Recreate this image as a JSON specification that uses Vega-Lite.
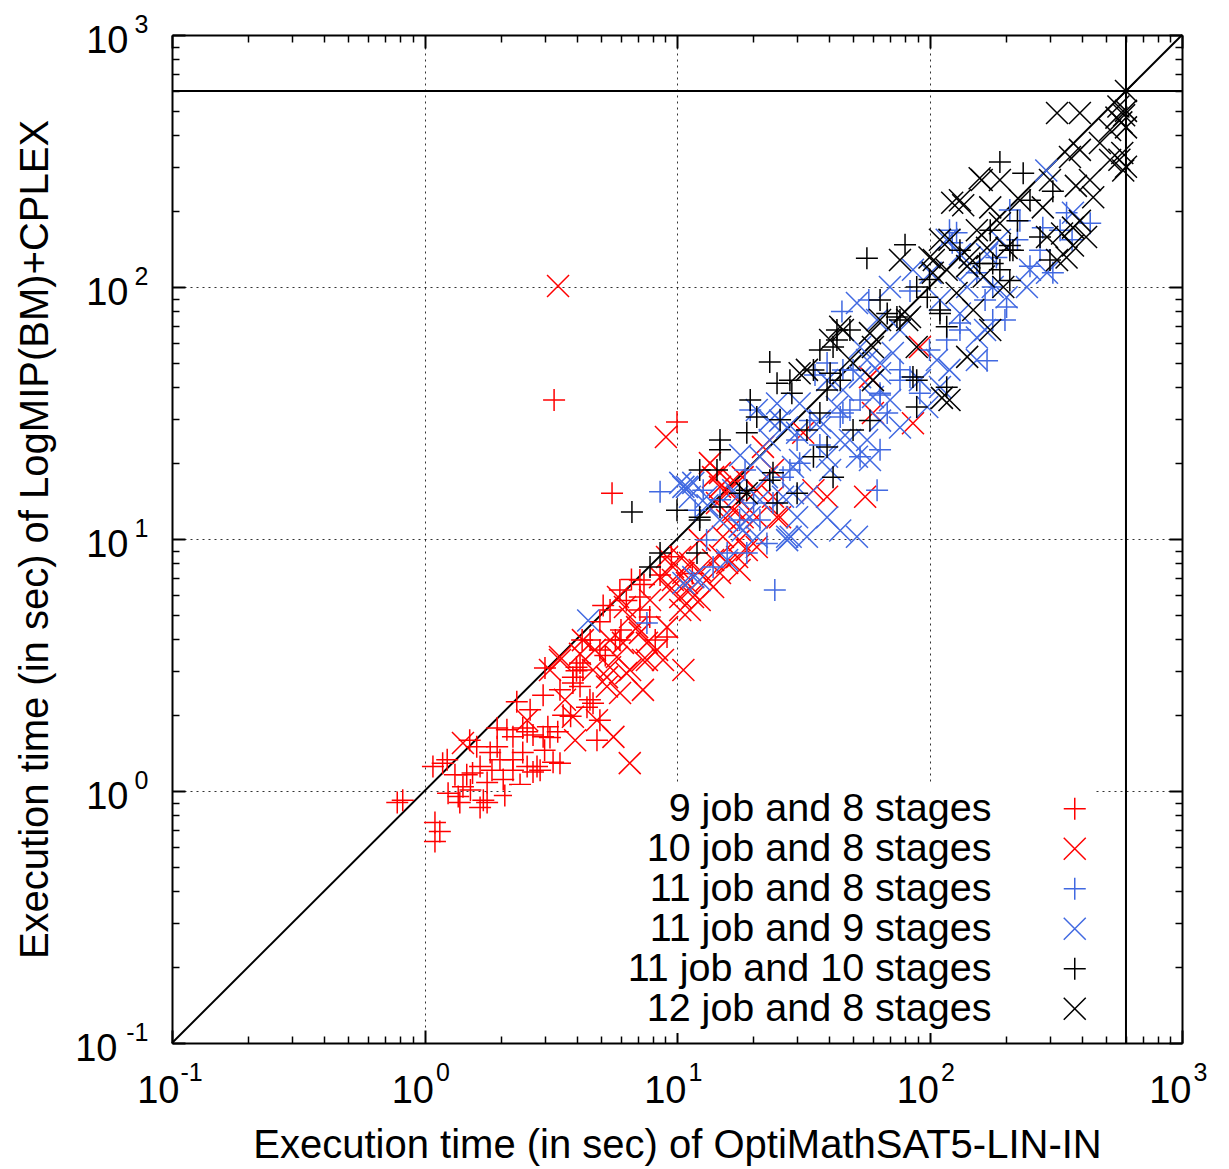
{
  "$schema": "https://vega.github.io/schema/vega-lite/v6.json",
  "width": 1010,
  "height": 1008,
  "autosize": {"type": "none"},
  "padding": {"left": 172, "top": 35, "right": 47, "bottom": 126},
  "background": "white",
  "config": {
    "view": {"stroke": null},
    "font": "Liberation Sans",
    "axis": {"labelFont": "Liberation Sans", "titleFont": "Liberation Sans", "labelColor": "black", "titleColor": "black", "tickColor": "black", "domainColor": "black", "titleFontWeight": "normal", "labelFlush": false, "labelOverlap": false, "labelBound": false}
  },
  "resolve": {"axis": {"x": "independent", "y": "independent"}},
  "layer": [
    {
      "data": {"values": [{"x": 0.1, "y": 0.1}, {"x": 1000, "y": 1000}]},
      "mark": {"type": "line", "color": "black", "strokeWidth": 2},
      "encoding": {
        "x": {"field": "x", "type": "quantitative", "scale": {"type": "log", "domain": [0.1, 1000], "nice": false},
          "axis": {"orient": "bottom", "values": [0.1, 1, 10, 100, 1000], "labelExpr": "'10'", "labelFontSize": 38, "labelAlign": "right", "labelBaseline": "alphabetic",
            "labelOffset": {"condition": {"test": "datum.value < 0.5", "value": 7}, "value": 9}, "labelPadding": 72, "tickSize": -13, "tickWidth": 2,
            "domain": true, "domainWidth": 2, "grid": true, "gridDash": [2, 4], "gridColor": "black", "gridWidth": 1, "gridOpacity": 0.8,
            "title": "Execution time (in sec) of OptiMathSAT5-LIN-IN", "titleFontSize": 40, "titleY": 114, "titleBaseline": "alphabetic"}},
        "y": {"field": "y", "type": "quantitative", "scale": {"type": "log", "domain": [0.1, 1000], "nice": false},
          "axis": {"orient": "left", "values": [0.1, 1, 10, 100, 1000], "labelExpr": "'10'", "labelFontSize": 38, "labelAlign": "right", "labelBaseline": "alphabetic",
            "labelOffset": 17, "labelPadding": {"condition": {"test": "datum.value < 0.5", "value": 68}, "value": 57}, "tickSize": -13, "tickWidth": 2,
            "domain": true, "domainWidth": 2, "grid": true, "gridDash": [2, 4], "gridColor": "black", "gridWidth": 1, "gridOpacity": 0.8,
            "title": "Execution time (in sec) of LogMIP(BM)+CPLEX", "titleFontSize": 40, "titleX": -125, "titleBaseline": "alphabetic"}}
      }
    },
    {
      "data": {"values": [{"t": 600}]},
      "mark": {"type": "rule", "color": "black", "strokeWidth": 2},
      "encoding": {"y": {"field": "t", "type": "quantitative", "scale": {"type": "log", "domain": [0.1, 1000], "nice": false}, "axis": null}}
    },
    {
      "data": {"values": [{"t": 600}]},
      "mark": {"type": "rule", "color": "black", "strokeWidth": 2},
      "encoding": {"x": {"field": "t", "type": "quantitative", "scale": {"type": "log", "domain": [0.1, 1000], "nice": false}, "axis": null}}
    },
    {
      "data": {"values": [
        {"s":"9 job and 8 stages","x":0.78,"y":0.9},{"s":"9 job and 8 stages","x":0.82,"y":0.92},{"s":"9 job and 8 stages","x":1.1,"y":0.75},{"s":"9 job and 8 stages","x":1.15,"y":0.69},{"s":"9 job and 8 stages","x":1.1,"y":0.63},{"s":"9 job and 8 stages","x":1.18,"y":1.29},{"s":"9 job and 8 stages","x":1.24,"y":0.98},{"s":"9 job and 8 stages","x":1.36,"y":0.95},{"s":"9 job and 8 stages","x":1.38,"y":0.9},{"s":"9 job and 8 stages","x":1.42,"y":1.04},
        {"s":"9 job and 8 stages","x":1.47,"y":1.16},{"s":"9 job and 8 stages","x":1.51,"y":1.59},{"s":"9 job and 8 stages","x":1.55,"y":1.18},{"s":"9 job and 8 stages","x":1.61,"y":1.5},{"s":"9 job and 8 stages","x":1.66,"y":1.25},{"s":"9 job and 8 stages","x":1.71,"y":0.92},{"s":"9 job and 8 stages","x":1.77,"y":0.9},{"s":"9 job and 8 stages","x":1.66,"y":0.86},{"s":"9 job and 8 stages","x":1.82,"y":1.42},{"s":"9 job and 8 stages","x":1.94,"y":1.5},
        {"s":"9 job and 8 stages","x":1.99,"y":1.33},{"s":"9 job and 8 stages","x":1.77,"y":1.08},{"s":"9 job and 8 stages","x":2.05,"y":1.11},{"s":"9 job and 8 stages","x":2.32,"y":2.26},{"s":"9 job and 8 stages","x":2.95,"y":2.4},{"s":"9 job and 8 stages","x":2.45,"y":1.78},{"s":"9 job and 8 stages","x":2.55,"y":1.72},{"s":"9 job and 8 stages","x":2.69,"y":1.67},{"s":"9 job and 8 stages","x":2.95,"y":1.64},{"s":"9 job and 8 stages","x":3.14,"y":1.63},
        {"s":"9 job and 8 stages","x":2.12,"y":1.75},{"s":"9 job and 8 stages","x":2.24,"y":1.33},{"s":"9 job and 8 stages","x":2.45,"y":1.42},{"s":"9 job and 8 stages","x":2.55,"y":1.25},{"s":"9 job and 8 stages","x":2.69,"y":1.19},{"s":"9 job and 8 stages","x":2.79,"y":1.25},{"s":"9 job and 8 stages","x":3.23,"y":1.3},{"s":"9 job and 8 stages","x":3.44,"y":1.29},{"s":"9 job and 8 stages","x":2.24,"y":1.21},{"s":"9 job and 8 stages","x":2.69,"y":0.9},
        {"s":"9 job and 8 stages","x":3.67,"y":0.9},{"s":"9 job and 8 stages","x":3.54,"y":2.0},{"s":"9 job and 8 stages","x":3.79,"y":1.98},{"s":"9 job and 8 stages","x":3.08,"y":1.8},{"s":"9 job and 8 stages","x":3.37,"y":1.72},{"s":"9 job and 8 stages","x":3.0,"y":3.08},{"s":"9 job and 8 stages","x":4.13,"y":3.22},{"s":"9 job and 8 stages","x":4.0,"y":3.0},{"s":"9 job and 8 stages","x":3.87,"y":2.68},{"s":"9 job and 8 stages","x":4.13,"y":2.6},
        {"s":"9 job and 8 stages","x":4.82,"y":1.59},{"s":"9 job and 8 stages","x":4.4,"y":2.15},{"s":"9 job and 8 stages","x":4.65,"y":2.23},{"s":"9 job and 8 stages","x":4.95,"y":1.91},{"s":"9 job and 8 stages","x":7.13,"y":5.89},{"s":"9 job and 8 stages","x":7.8,"y":4.9},{"s":"9 job and 8 stages","x":9.13,"y":4.08},{"s":"9 job and 8 stages","x":4.95,"y":4.69},{"s":"9 job and 8 stages","x":4.0,"y":3.1},{"s":"9 job and 8 stages","x":4.24,"y":3.02},
        {"s":"9 job and 8 stages","x":3.87,"y":2.83},{"s":"9 job and 8 stages","x":5.53,"y":15.2},{"s":"9 job and 8 stages","x":3.26,"y":35.6},{"s":"9 job and 8 stages","x":10,"y":29.1},{"s":"9 job and 8 stages","x":7.13,"y":5.23},{"s":"9 job and 8 stages","x":8.2,"y":3.97},{"s":"9 job and 8 stages","x":6.0,"y":4.35},{"s":"9 job and 8 stages","x":8.57,"y":7.2},{"s":"9 job and 8 stages","x":7.4,"y":6.6},{"s":"9 job and 8 stages","x":5.1,"y":5.45},
        {"s":"9 job and 8 stages","x":6.3,"y":5.7},{"s":"9 job and 8 stages","x":5.2,"y":3.45},{"s":"9 job and 8 stages","x":4.53,"y":3.97},{"s":"9 job and 8 stages","x":5.7,"y":3.97},{"s":"9 job and 8 stages","x":1.08,"y":1.25},{"s":"9 job and 8 stages","x":1.23,"y":1.33},{"s":"9 job and 8 stages","x":1.94,"y":1.78},{"s":"9 job and 8 stages","x":2.24,"y":1.64},{"s":"9 job and 8 stages","x":9.5,"y":8.5},{"s":"9 job and 8 stages","x":11.5,"y":7.3},{"s":"9 job and 8 stages","x":6.6,"y":6.9},
        {"s":"9 job and 8 stages","x":1.32,"y":1.16},{"s":"9 job and 8 stages","x":1.52,"y":1.01},{"s":"9 job and 8 stages","x":1.85,"y":1.21},{"s":"9 job and 8 stages","x":2.08,"y":0.96},{"s":"9 job and 8 stages","x":2.39,"y":1.06},{"s":"9 job and 8 stages","x":2.87,"y":1.21},{"s":"9 job and 8 stages","x":2.99,"y":1.45},{"s":"9 job and 8 stages","x":2.62,"y":2.1},{"s":"9 job and 8 stages","x":3.44,"y":2.52},{"s":"9 job and 8 stages","x":4.52,"y":2.3},
        {"s":"9 job and 8 stages","x":4.95,"y":3.63},{"s":"9 job and 8 stages","x":5.94,"y":3.97},{"s":"9 job and 8 stages","x":4.21,"y":3.97},{"s":"9 job and 8 stages","x":5.43,"y":5.23},{"s":"9 job and 8 stages","x":7.13,"y":6.88},{"s":"9 job and 8 stages","x":5.94,"y":6.27},

        {"s":"10 job and 8 stages","x":5.84,"y":5.89},{"s":"10 job and 8 stages","x":6.22,"y":5.37},{"s":"10 job and 8 stages","x":6.52,"y":4.9},{"s":"10 job and 8 stages","x":6.95,"y":4.47},{"s":"10 job and 8 stages","x":7.13,"y":4.24},{"s":"10 job and 8 stages","x":7.6,"y":3.87},{"s":"10 job and 8 stages","x":8.34,"y":3.63},{"s":"10 job and 8 stages","x":6.11,"y":3.87},{"s":"10 job and 8 stages","x":5.78,"y":3.4},{"s":"10 job and 8 stages","x":5.43,"y":3.1},
        {"s":"10 job and 8 stages","x":5.28,"y":2.83},{"s":"10 job and 8 stages","x":4.65,"y":3.02},{"s":"10 job and 8 stages","x":4.24,"y":3.97},{"s":"10 job and 8 stages","x":3.44,"y":3.4},{"s":"10 job and 8 stages","x":3.14,"y":3.02},{"s":"10 job and 8 stages","x":6.52,"y":3.02},{"s":"10 job and 8 stages","x":7.33,"y":3.31},{"s":"10 job and 8 stages","x":9.13,"y":4.47},{"s":"10 job and 8 stages","x":10.6,"y":3.02},{"s":"10 job and 8 stages","x":8.57,"y":7.06},
        {"s":"10 job and 8 stages","x":9.64,"y":7.74},{"s":"10 job and 8 stages","x":10.6,"y":7.33},{"s":"10 job and 8 stages","x":9.64,"y":6.88},{"s":"10 job and 8 stages","x":10.3,"y":8.48},{"s":"10 job and 8 stages","x":9.13,"y":8.48},{"s":"10 job and 8 stages","x":11.25,"y":8.03},{"s":"10 job and 8 stages","x":12.3,"y":7.53},{"s":"10 job and 8 stages","x":13.1,"y":6.88},{"s":"10 job and 8 stages","x":13.9,"y":6.45},{"s":"10 job and 8 stages","x":14.8,"y":7.33},
        {"s":"10 job and 8 stages","x":15.8,"y":8.03},{"s":"10 job and 8 stages","x":17.3,"y":8.48},{"s":"10 job and 8 stages","x":18.9,"y":9.04},{"s":"10 job and 8 stages","x":20.7,"y":9.29},{"s":"10 job and 8 stages","x":17.7,"y":7.53},{"s":"10 job and 8 stages","x":11.25,"y":5.23},{"s":"10 job and 8 stages","x":11.57,"y":5.89},{"s":"10 job and 8 stages","x":10.3,"y":5.89},{"s":"10 job and 8 stages","x":10.95,"y":6.69},{"s":"10 job and 8 stages","x":13.9,"y":8.26},
        {"s":"10 job and 8 stages","x":15.2,"y":10.2},{"s":"10 job and 8 stages","x":15.8,"y":11.9},{"s":"10 job and 8 stages","x":16.7,"y":13.0},{"s":"10 job and 8 stages","x":17.7,"y":14.3},{"s":"10 job and 8 stages","x":14.4,"y":13.9},{"s":"10 job and 8 stages","x":16.7,"y":17.1},{"s":"10 job and 8 stages","x":18.2,"y":17.6},{"s":"10 job and 8 stages","x":13.9,"y":17.6},{"s":"10 job and 8 stages","x":14.8,"y":16.1},{"s":"10 job and 8 stages","x":15.8,"y":15.6},
        {"s":"10 job and 8 stages","x":20.7,"y":15.6},{"s":"10 job and 8 stages","x":24.0,"y":14.7},{"s":"10 job and 8 stages","x":25.6,"y":12.2},{"s":"10 job and 8 stages","x":20.7,"y":12.2},{"s":"10 job and 8 stages","x":3.38,"y":101},{"s":"10 job and 8 stages","x":9.04,"y":25.4},{"s":"10 job and 8 stages","x":6.5,"y":1.29},{"s":"10 job and 8 stages","x":13.5,"y":20.0},{"s":"10 job and 8 stages","x":14.8,"y":18.3},{"s":"10 job and 8 stages","x":21.9,"y":23.2},
        {"s":"10 job and 8 stages","x":24,"y":18.8},{"s":"10 job and 8 stages","x":55.6,"y":14.7},{"s":"10 job and 8 stages","x":59.7,"y":31.6},{"s":"10 job and 8 stages","x":39.3,"y":14.7},{"s":"10 job and 8 stages","x":34.7,"y":15.6},{"s":"10 job and 8 stages","x":24.9,"y":12.2},{"s":"10 job and 8 stages","x":18.2,"y":12.2},{"s":"10 job and 8 stages","x":91.6,"y":57.8},{"s":"10 job and 8 stages","x":86,"y":28.8},{"s":"10 job and 8 stages","x":58.1,"y":43.9},
        {"s":"10 job and 8 stages","x":31.6,"y":26.4},{"s":"10 job and 8 stages","x":3.44,"y":3.31},{"s":"10 job and 8 stages","x":4.13,"y":3.5},{"s":"10 job and 8 stages","x":4.82,"y":1.91},{"s":"10 job and 8 stages","x":5.6,"y":1.64},{"s":"10 job and 8 stages","x":5.28,"y":2.6},{"s":"10 job and 8 stages","x":5.95,"y":2.45},{"s":"10 job and 8 stages","x":7.33,"y":2.52},{"s":"10 job and 8 stages","x":7.6,"y":3.31},{"s":"10 job and 8 stages","x":6.3,"y":2.94},
        {"s":"10 job and 8 stages","x":8.8,"y":3.31},{"s":"10 job and 8 stages","x":3.87,"y":1.97},{"s":"10 job and 8 stages","x":2.55,"y":1.91},{"s":"10 job and 8 stages","x":1.42,"y":1.55},
        {"s":"10 job and 8 stages","x":7.82,"y":5.73},{"s":"10 job and 8 stages","x":9.38,"y":6.28},{"s":"10 job and 8 stages","x":11.25,"y":6.28},{"s":"10 job and 8 stages","x":12.3,"y":5.73},{"s":"10 job and 8 stages","x":14.8,"y":8.6},{"s":"10 job and 8 stages","x":17.7,"y":9.9},{"s":"10 job and 8 stages","x":12.3,"y":9.9},{"s":"10 job and 8 stages","x":10.3,"y":5.23},{"s":"10 job and 8 stages","x":5.43,"y":3.97},{"s":"10 job and 8 stages","x":4.73,"y":3.63},
        {"s":"10 job and 8 stages","x":3.6,"y":2.3},{"s":"10 job and 8 stages","x":3.95,"y":1.59},

        {"s":"11 job and 8 stages","x":8.57,"y":15.4},{"s":"11 job and 8 stages","x":24.4,"y":6.28},{"s":"11 job and 8 stages","x":62,"y":15.6},{"s":"11 job and 8 stages","x":13.9,"y":7.74},{"s":"11 job and 8 stages","x":7.6,"y":4.64},{"s":"11 job and 8 stages","x":17.7,"y":11.9},{"s":"11 job and 8 stages","x":12.7,"y":15.6},{"s":"11 job and 8 stages","x":19.5,"y":32.5},{"s":"11 job and 8 stages","x":45.4,"y":46.8},{"s":"11 job and 8 stages","x":199,"y":74},
        {"s":"11 job and 8 stages","x":169,"y":51},{"s":"11 job and 8 stages","x":83.7,"y":43.9},{"s":"11 job and 8 stages","x":120,"y":168},{"s":"11 job and 8 stages","x":208,"y":202},{"s":"11 job and 8 stages","x":433,"y":179},{"s":"11 job and 8 stages","x":367,"y":154},{"s":"11 job and 8 stages","x":308,"y":114},{"s":"11 job and 8 stages","x":123,"y":150},{"s":"11 job and 8 stages","x":228,"y":183},{"s":"11 job and 8 stages","x":29.9,"y":24.7},
        {"s":"11 job and 8 stages","x":44.3,"y":30.5},{"s":"11 job and 8 stages","x":39.3,"y":49.9},{"s":"11 job and 8 stages","x":49.8,"y":46.8},{"s":"11 job and 8 stages","x":30.6,"y":20.0},{"s":"11 job and 8 stages","x":26.3,"y":17.6},{"s":"11 job and 8 stages","x":53.1,"y":21.2},{"s":"11 job and 8 stages","x":63.7,"y":22.6},{"s":"11 job and 8 stages","x":13.1,"y":9.9},{"s":"11 job and 8 stages","x":15.8,"y":8.8},{"s":"11 job and 8 stages","x":18.9,"y":8.8},
        {"s":"11 job and 8 stages","x":20.1,"y":13.9},{"s":"11 job and 8 stages","x":24.0,"y":13.9},{"s":"11 job and 8 stages","x":22.7,"y":9.6},{"s":"11 job and 8 stages","x":45,"y":80},{"s":"11 job and 8 stages","x":132,"y":72},{"s":"11 job and 8 stages","x":117,"y":61.6},{"s":"11 job and 8 stages","x":76.4,"y":42.7},{"s":"11 job and 8 stages","x":63.7,"y":37.9},{"s":"11 job and 8 stages","x":53.1,"y":35.6},{"s":"11 job and 8 stages","x":45.4,"y":31.6},
        {"s":"11 job and 8 stages","x":33.6,"y":29.5},{"s":"11 job and 8 stages","x":91.6,"y":37.9},{"s":"11 job and 8 stages","x":68,"y":31.6},{"s":"11 job and 8 stages","x":178,"y":74},{"s":"11 job and 8 stages","x":202,"y":83.3},{"s":"11 job and 8 stages","x":184,"y":131},{"s":"11 job and 8 stages","x":154,"y":114},{"s":"11 job and 8 stages","x":128,"y":164},{"s":"11 job and 8 stages","x":281,"y":172},{"s":"11 job and 8 stages","x":349,"y":197},
        {"s":"11 job and 8 stages","x":223,"y":154},{"s":"11 job and 8 stages","x":250,"y":121},{"s":"11 job and 8 stages","x":178,"y":100},
        {"s":"11 job and 8 stages","x":14.8,"y":14.3},{"s":"11 job and 8 stages","x":21.3,"y":11.9},{"s":"11 job and 8 stages","x":28.0,"y":18.8},{"s":"11 job and 8 stages","x":36.8,"y":23.6},{"s":"11 job and 8 stages","x":48.4,"y":32.5},{"s":"11 job and 8 stages","x":63.7,"y":37.3},{"s":"11 job and 8 stages","x":76.4,"y":46.9},{"s":"11 job and 8 stages","x":100,"y":56.2},{"s":"11 job and 8 stages","x":132,"y":67.5},{"s":"11 job and 8 stages","x":166,"y":88.8},
        {"s":"11 job and 8 stages","x":274,"y":140},{"s":"11 job and 8 stages","x":329,"y":168},{"s":"11 job and 8 stages","x":35.2,"y":44.8},{"s":"11 job and 8 stages","x":18.6,"y":18.8},{"s":"11 job and 8 stages","x":11.8,"y":13.0},{"s":"11 job and 8 stages","x":83.7,"y":96.4},{"s":"11 job and 8 stages","x":57.5,"y":88.8},

        {"s":"11 job and 9 stages","x":4.45,"y":4.75},{"s":"11 job and 9 stages","x":10.95,"y":16.1},{"s":"11 job and 9 stages","x":27.3,"y":9.9},{"s":"11 job and 9 stages","x":10.6,"y":6.69},{"s":"11 job and 9 stages","x":15.8,"y":8.26},{"s":"11 job and 9 stages","x":20.7,"y":32.5},{"s":"11 job and 9 stages","x":11.6,"y":16.7},{"s":"11 job and 9 stages","x":25.6,"y":29.5},{"s":"11 job and 9 stages","x":29.9,"y":26.4},{"s":"11 job and 9 stages","x":36.8,"y":29.5},
        {"s":"11 job and 9 stages","x":39.3,"y":21.2},{"s":"11 job and 9 stages","x":44.3,"y":24.7},{"s":"11 job and 9 stages","x":51.6,"y":21.2},{"s":"11 job and 9 stages","x":56.6,"y":24.7},{"s":"11 job and 9 stages","x":63.7,"y":29.5},{"s":"11 job and 9 stages","x":45.4,"y":39.0},{"s":"11 job and 9 stages","x":53.1,"y":43.9},{"s":"11 job and 9 stages","x":28.8,"y":19.3},{"s":"11 job and 9 stages","x":32.7,"y":14.7},{"s":"11 job and 9 stages","x":28.2,"y":10.2},
        {"s":"11 job and 9 stages","x":19.4,"y":12.2},{"s":"11 job and 9 stages","x":18.2,"y":10.8},{"s":"11 job and 9 stages","x":16.7,"y":15.6},{"s":"11 job and 9 stages","x":13.1,"y":14.7},{"s":"11 job and 9 stages","x":10.6,"y":16.1},{"s":"11 job and 9 stages","x":51.6,"y":86.4},{"s":"11 job and 9 stages","x":117,"y":154},{"s":"11 job and 9 stages","x":141,"y":100},{"s":"11 job and 9 stages","x":107,"y":51.3},{"s":"11 job and 9 stages","x":71.6,"y":54.7},
        {"s":"11 job and 9 stages","x":63.7,"y":45.5},{"s":"11 job and 9 stages","x":53.1,"y":57.8},{"s":"11 job and 9 stages","x":110,"y":40.1},{"s":"11 job and 9 stages","x":98,"y":33.4},{"s":"11 job and 9 stages","x":76.4,"y":27.7},{"s":"11 job and 9 stages","x":43,"y":33.4},{"s":"11 job and 9 stages","x":36.8,"y":27.7},{"s":"11 job and 9 stages","x":24.9,"y":34.5},{"s":"11 job and 9 stages","x":27.3,"y":27.7},{"s":"11 job and 9 stages","x":154,"y":51.3},
        {"s":"11 job and 9 stages","x":166,"y":67.5},{"s":"11 job and 9 stages","x":290,"y":290},{"s":"11 job and 9 stages","x":370,"y":197},{"s":"11 job and 9 stages","x":10.3,"y":16.7},{"s":"11 job and 9 stages","x":11.6,"y":7.06},{"s":"11 job and 9 stages","x":17.7,"y":11.2},{"s":"11 job and 9 stages","x":20.7,"y":10.2},{"s":"11 job and 9 stages","x":27.3,"y":10.2},{"s":"11 job and 9 stages","x":28.8,"y":15.2},{"s":"11 job and 9 stages","x":17.3,"y":14.7},
        {"s":"11 job and 9 stages","x":12.3,"y":6.88},{"s":"11 job and 9 stages","x":11.25,"y":14.7},{"s":"11 job and 9 stages","x":21.3,"y":21.2},{"s":"11 job and 9 stages","x":22.7,"y":17.6},{"s":"11 job and 9 stages","x":26.3,"y":14.7},{"s":"11 job and 9 stages","x":29.9,"y":12.2},{"s":"11 job and 9 stages","x":32.7,"y":10.2},{"s":"11 job and 9 stages","x":39.3,"y":12.2},{"s":"11 job and 9 stages","x":44.3,"y":10.8},{"s":"11 job and 9 stages","x":51.6,"y":10.2},
        {"s":"11 job and 9 stages","x":63.7,"y":49.9},{"s":"11 job and 9 stages","x":59.7,"y":36.6},{"s":"11 job and 9 stages","x":23.3,"y":29.5},{"s":"11 job and 9 stages","x":30.6,"y":34.5},{"s":"11 job and 9 stages","x":39.3,"y":42.7},{"s":"11 job and 9 stages","x":56.6,"y":51.3},{"s":"11 job and 9 stages","x":62,"y":74},{"s":"11 job and 9 stages","x":69.7,"y":100},{"s":"11 job and 9 stages","x":86,"y":117},{"s":"11 job and 9 stages","x":154,"y":63},
        {"s":"11 job and 9 stages","x":178,"y":100},{"s":"11 job and 9 stages","x":202,"y":91},{"s":"11 job and 9 stages","x":132,"y":78.5},{"s":"11 job and 9 stages","x":132,"y":135},{"s":"11 job and 9 stages","x":101,"y":114},{"s":"11 job and 9 stages","x":169,"y":135},{"s":"11 job and 9 stages","x":243,"y":100},{"s":"11 job and 9 stages","x":292,"y":114},
        {"s":"11 job and 9 stages","x":17.8,"y":21.5},{"s":"11 job and 9 stages","x":23.3,"y":24.7},{"s":"11 job and 9 stages","x":30.7,"y":20.6},{"s":"11 job and 9 stages","x":40.4,"y":18.8},{"s":"11 job and 9 stages","x":48.4,"y":24.7},{"s":"11 job and 9 stages","x":58.1,"y":20.6},{"s":"11 job and 9 stages","x":69.8,"y":35.6},{"s":"11 job and 9 stages","x":91.6,"y":42.7},{"s":"11 job and 9 stages","x":120,"y":46.9},{"s":"11 job and 9 stages","x":76.4,"y":67.5},
        {"s":"11 job and 9 stages","x":110,"y":88.8},{"s":"11 job and 9 stages","x":145,"y":117},{"s":"11 job and 9 stages","x":190,"y":154},{"s":"11 job and 9 stages","x":250,"y":117},{"s":"11 job and 9 stages","x":21.3,"y":14.3},{"s":"11 job and 9 stages","x":14.8,"y":11.9},{"s":"11 job and 9 stages","x":13.2,"y":13.6},

        {"s":"11 job and 10 stages","x":6.63,"y":12.8},{"s":"11 job and 10 stages","x":10,"y":13.0},{"s":"11 job and 10 stages","x":7.82,"y":7.74},{"s":"11 job and 10 stages","x":8.57,"y":8.8},{"s":"11 job and 10 stages","x":12.0,"y":8.8},{"s":"11 job and 10 stages","x":12.3,"y":11.9},{"s":"11 job and 10 stages","x":14.8,"y":13.4},{"s":"11 job and 10 stages","x":17.7,"y":15.2},{"s":"11 job and 10 stages","x":23.3,"y":17.1},{"s":"11 job and 10 stages","x":24.9,"y":13.9},
        {"s":"11 job and 10 stages","x":23.3,"y":50.4},{"s":"11 job and 10 stages","x":24.9,"y":41.5},{"s":"11 job and 10 stages","x":28.5,"y":37.9},{"s":"11 job and 10 stages","x":20.7,"y":30.5},{"s":"11 job and 10 stages","x":18.9,"y":26.4},{"s":"11 job and 10 stages","x":14.8,"y":22.6},{"s":"11 job and 10 stages","x":32.7,"y":27.1},{"s":"11 job and 10 stages","x":36.8,"y":31.6},{"s":"11 job and 10 stages","x":41.5,"y":17.6},{"s":"11 job and 10 stages","x":34.7,"y":21.2},
        {"s":"11 job and 10 stages","x":29.9,"y":15.2},{"s":"11 job and 10 stages","x":43,"y":61.6},{"s":"11 job and 10 stages","x":44.3,"y":42.7},{"s":"11 job and 10 stages","x":80,"y":147},{"s":"11 job and 10 stages","x":56.5,"y":130},{"s":"11 job and 10 stages","x":40.4,"y":45.5},{"s":"11 job and 10 stages","x":43,"y":67.5},{"s":"11 job and 10 stages","x":58.1,"y":29.5},{"s":"11 job and 10 stages","x":74.3,"y":76},{"s":"11 job and 10 stages","x":86,"y":43.9},
        {"s":"11 job and 10 stages","x":110,"y":81},{"s":"11 job and 10 stages","x":89,"y":33.4},{"s":"11 job and 10 stages","x":214,"y":140},{"s":"11 job and 10 stages","x":190,"y":117},{"s":"11 job and 10 stages","x":117,"y":69.6},{"s":"11 job and 10 stages","x":190,"y":313},{"s":"11 job and 10 stages","x":235,"y":283},{"s":"11 job and 10 stages","x":308,"y":240},{"s":"11 job and 10 stages","x":223,"y":183},{"s":"11 job and 10 stages","x":208,"y":140},
        {"s":"11 job and 10 stages","x":274,"y":158},{"s":"11 job and 10 stages","x":300,"y":128},{"s":"11 job and 10 stages","x":208,"y":106},{"s":"11 job and 10 stages","x":89,"y":100},{"s":"11 job and 10 stages","x":14.4,"y":18.8},{"s":"11 job and 10 stages","x":12.3,"y":12.2},{"s":"11 job and 10 stages","x":18.9,"y":15.6},{"s":"11 job and 10 stages","x":24,"y":18.3},{"s":"11 job and 10 stages","x":39.3,"y":23.2},{"s":"11 job and 10 stages","x":39.3,"y":39},
        {"s":"11 job and 10 stages","x":49.8,"y":27.1},{"s":"11 job and 10 stages","x":34.7,"y":46.8},{"s":"11 job and 10 stages","x":41.5,"y":57.8},{"s":"11 job and 10 stages","x":68,"y":78.5},{"s":"11 job and 10 stages","x":98,"y":91},{"s":"11 job and 10 stages","x":178,"y":124},{"s":"11 job and 10 stages","x":110,"y":78.5},{"s":"11 job and 10 stages","x":89,"y":42.7},{"s":"11 job and 10 stages","x":117,"y":40},{"s":"11 job and 10 stages","x":158,"y":124},
        {"s":"11 job and 10 stages","x":208,"y":146},
        {"s":"11 job and 10 stages","x":14.8,"y":24.7},{"s":"11 job and 10 stages","x":19.5,"y":35.6},{"s":"11 job and 10 stages","x":28.0,"y":42.7},{"s":"11 job and 10 stages","x":36.8,"y":56.2},{"s":"11 job and 10 stages","x":48.4,"y":67.5},{"s":"11 job and 10 stages","x":63.7,"y":88.8},{"s":"11 job and 10 stages","x":76.4,"y":74.0},{"s":"11 job and 10 stages","x":100,"y":107},{"s":"11 job and 10 stages","x":132,"y":140},{"s":"11 job and 10 stages","x":174,"y":168},
        {"s":"11 job and 10 stages","x":250,"y":221},{"s":"11 job and 10 stages","x":25.6,"y":29.7},{"s":"11 job and 10 stages","x":12.3,"y":18.8},

        {"s":"12 job and 8 stages","x":320,"y":490},{"s":"12 job and 8 stages","x":394,"y":490},{"s":"12 job and 8 stages","x":473,"y":373},{"s":"12 job and 8 stages","x":161,"y":266},{"s":"12 job and 8 stages","x":136,"y":211},{"s":"12 job and 8 stages","x":174,"y":207},{"s":"12 job and 8 stages","x":360,"y":328},{"s":"12 job and 8 stages","x":445,"y":227},{"s":"12 job and 8 stages","x":370,"y":146},{"s":"12 job and 8 stages","x":600,"y":600},
        {"s":"12 job and 8 stages","x":560,"y":520},{"s":"12 job and 8 stages","x":590,"y":480},{"s":"12 job and 8 stages","x":575,"y":450},{"s":"12 job and 8 stages","x":600,"y":430},{"s":"12 job and 8 stages","x":580,"y":340},{"s":"12 job and 8 stages","x":565,"y":320},{"s":"12 job and 8 stages","x":600,"y":300},{"s":"12 job and 8 stages","x":585,"y":290},{"s":"12 job and 8 stages","x":550,"y":470},{"s":"12 job and 8 stages","x":600,"y":500},
        {"s":"12 job and 8 stages","x":100,"y":131},{"s":"12 job and 8 stages","x":149,"y":81},{"s":"12 job and 8 stages","x":174,"y":67.5},{"s":"12 job and 8 stages","x":141,"y":52.8},{"s":"12 job and 8 stages","x":120,"y":35.6},{"s":"12 job and 8 stages","x":32.7,"y":46.9},{"s":"12 job and 8 stages","x":44.3,"y":69.6},{"s":"12 job and 8 stages","x":58.1,"y":65.6},{"s":"12 job and 8 stages","x":81.6,"y":74},{"s":"12 job and 8 stages","x":128,"y":94.6},
        {"s":"12 job and 8 stages","x":103,"y":114},{"s":"12 job and 8 stages","x":117,"y":117},{"s":"12 job and 8 stages","x":89,"y":57.8},{"s":"12 job and 8 stages","x":18.9,"y":15.2},{"s":"12 job and 8 stages","x":59.7,"y":42.7},{"s":"12 job and 8 stages","x":112,"y":36.3},{"s":"12 job and 8 stages","x":123,"y":216},{"s":"12 job and 8 stages","x":158,"y":270},{"s":"12 job and 8 stages","x":292,"y":158},{"s":"12 job and 8 stages","x":349,"y":131},
        {"s":"12 job and 8 stages","x":335,"y":163},{"s":"12 job and 8 stages","x":394,"y":183},{"s":"12 job and 8 stages","x":417,"y":158},{"s":"12 job and 8 stages","x":281,"y":207},{"s":"12 job and 8 stages","x":190,"y":179},{"s":"12 job and 8 stages","x":154,"y":168},{"s":"12 job and 8 stages","x":120,"y":154},{"s":"12 job and 8 stages","x":104,"y":128},{"s":"12 job and 8 stages","x":141,"y":121},{"s":"12 job and 8 stages","x":164,"y":110},
        {"s":"12 job and 8 stages","x":196,"y":100},{"s":"12 job and 8 stages","x":30.6,"y":45.5},{"s":"12 job and 8 stages","x":45.4,"y":67.5},{"s":"12 job and 8 stages","x":83.7,"y":76},{"s":"12 job and 8 stages","x":144,"y":131},{"s":"12 job and 8 stages","x":169,"y":143},{"s":"12 job and 8 stages","x":202,"y":143},{"s":"12 job and 8 stages","x":59.7,"y":57.8},{"s":"12 job and 8 stages","x":380,"y":252},{"s":"12 job and 8 stages","x":370,"y":172},
        {"s":"12 job and 8 stages","x":320,"y":128},
        {"s":"12 job and 8 stages","x":228,"y":221},{"s":"12 job and 8 stages","x":300,"y":266},{"s":"12 job and 8 stages","x":394,"y":350},{"s":"12 job and 8 stages","x":519,"y":420},{"s":"12 job and 8 stages","x":190,"y":266},{"s":"12 job and 8 stages","x":132,"y":221},{"s":"12 job and 8 stages","x":110,"y":154},{"s":"12 job and 8 stages","x":76.4,"y":128},{"s":"12 job and 8 stages","x":63.7,"y":74.0},{"s":"12 job and 8 stages","x":48.4,"y":51.3},
        {"s":"12 job and 8 stages","x":40.4,"y":61.6},{"s":"12 job and 8 stages","x":432,"y":266},{"s":"12 job and 8 stages","x":519,"y":319}
      ]},
      "mark": {"type": "point", "filled": false, "opacity": 1, "strokeWidth": 1.5, "size": 484},
      "encoding": {
        "x": {"field": "x", "type": "quantitative", "scale": {"type": "log", "domain": [0.1, 1000], "nice": false},
          "axis": {"orient": "bottom", "values": [0.2,0.3,0.4,0.5,0.6,0.7,0.8,0.9,2,3,4,5,6,7,8,9,20,30,40,50,60,70,80,90,200,300,400,500,600,700,800,900], "tickSize": -7, "tickWidth": 1.5, "labels": false, "domain": false, "grid": false, "title": null}},
        "y": {"field": "y", "type": "quantitative", "scale": {"type": "log", "domain": [0.1, 1000], "nice": false},
          "axis": {"orient": "left", "values": [0.2,0.3,0.4,0.5,0.6,0.7,0.8,0.9,2,3,4,5,6,7,8,9,20,30,40,50,60,70,80,90,200,300,400,500,600,700,800,900], "tickSize": -7, "tickWidth": 1.5, "labels": false, "domain": false, "grid": false, "title": null}},
        "color": {"field": "s", "type": "nominal",
          "scale": {"domain": ["9 job and 8 stages", "10 job and 8 stages", "11 job and 8 stages", "11 job and 9 stages", "11 job and 10 stages", "12 job and 8 stages"], "range": ["#ff0000", "#ff0000", "#4169e1", "#4169e1", "#000000", "#000000"]},
          "legend": {"orient": "none", "legendX": 340, "legendY": 750, "title": null, "direction": "vertical", "columns": 1, "fillColor": "white", "padding": 4, "labelFont": "Liberation Sans", "labelFontSize": 39.5, "labelColor": "black", "labelAlign": "right", "labelBaseline": "middle", "labelOffset": -103, "symbolOffset": 539, "labelLimit": 1000, "rowPadding": -1, "symbolSize": 484, "symbolStrokeWidth": 1.5}},
        "shape": {"field": "s", "type": "nominal",
          "scale": {"domain": ["9 job and 8 stages", "10 job and 8 stages", "11 job and 8 stages", "11 job and 9 stages", "11 job and 10 stages", "12 job and 8 stages"], "range": ["M-1,0H1M0,-1V1", "M-1,-1L1,1M-1,1L1,-1", "M-1,0H1M0,-1V1", "M-1,-1L1,1M-1,1L1,-1", "M-1,0H1M0,-1V1", "M-1,-1L1,1M-1,1L1,-1"]},
          "legend": {"orient": "none", "legendX": 340, "legendY": 750, "title": null, "direction": "vertical", "columns": 1, "fillColor": "white", "padding": 4, "labelFont": "Liberation Sans", "labelFontSize": 39.5, "labelColor": "black", "labelAlign": "right", "labelBaseline": "middle", "labelOffset": -103, "symbolOffset": 539, "labelLimit": 1000, "rowPadding": -1, "symbolSize": 484, "symbolStrokeWidth": 1.5}}
      }
    },
    {
      "data": {"values": [{"x": 0.1, "y": 0.1}, {"x": 1000, "y": 1000}]},
      "mark": {"type": "point", "opacity": 0},
      "encoding": {
        "x": {"field": "x", "type": "quantitative", "scale": {"type": "log", "domain": [0.1, 1000], "nice": false},
          "axis": {"orient": "bottom", "values": [0.1, 1, 10, 100, 1000], "ticks": false, "tickSize": 0, "domain": false, "grid": false, "labelExpr": "'' + round(log(datum.value) / LN10)", "labelFontSize": 25, "labelAlign": "left", "labelBaseline": "alphabetic", "labelPadding": 37, "labelOffset": {"condition": {"test": "datum.value < 0.5", "value": 8}, "value": 11}, "title": null}},
        "y": {"field": "y", "type": "quantitative", "scale": {"type": "log", "domain": [0.1, 1000], "nice": false},
          "axis": {"orient": "left", "values": [0.1, 1, 10, 100, 1000], "ticks": false, "tickSize": 0, "domain": false, "grid": false, "labelExpr": "'' + round(log(datum.value) / LN10)", "labelFontSize": 25, "labelAlign": "right", "labelBaseline": "alphabetic", "labelPadding": 24, "labelOffset": -3, "title": null}}
      }
    },
    {
      "data": {"values": [{"x": 0.1, "y": 0.1}, {"x": 1000, "y": 1000}]},
      "mark": {"type": "point", "opacity": 0},
      "encoding": {
        "x": {"field": "x", "type": "quantitative", "scale": {"type": "log", "domain": [0.1, 1000], "nice": false},
          "axis": {"orient": "top", "values": [0.1, 1, 10, 100, 1000], "tickSize": -13, "tickWidth": 2, "labels": false, "domain": true, "domainWidth": 2, "grid": false, "title": null}},
        "y": {"field": "y", "type": "quantitative", "scale": {"type": "log", "domain": [0.1, 1000], "nice": false},
          "axis": {"orient": "right", "values": [0.1, 1, 10, 100, 1000], "tickSize": -13, "tickWidth": 2, "labels": false, "domain": true, "domainWidth": 2, "grid": false, "title": null}}
      }
    },
    {
      "data": {"values": [{"x": 0.1, "y": 0.1}, {"x": 1000, "y": 1000}]},
      "mark": {"type": "point", "opacity": 0},
      "encoding": {
        "x": {"field": "x", "type": "quantitative", "scale": {"type": "log", "domain": [0.1, 1000], "nice": false},
          "axis": {"orient": "top", "values": [0.2,0.3,0.4,0.5,0.6,0.7,0.8,0.9,2,3,4,5,6,7,8,9,20,30,40,50,60,70,80,90,200,300,400,500,600,700,800,900], "tickSize": -7, "tickWidth": 1.5, "labels": false, "domain": false, "grid": false, "title": null}},
        "y": {"field": "y", "type": "quantitative", "scale": {"type": "log", "domain": [0.1, 1000], "nice": false},
          "axis": {"orient": "right", "values": [0.2,0.3,0.4,0.5,0.6,0.7,0.8,0.9,2,3,4,5,6,7,8,9,20,30,40,50,60,70,80,90,200,300,400,500,600,700,800,900], "tickSize": -7, "tickWidth": 1.5, "labels": false, "domain": false, "grid": false, "title": null}}
      }
    }
  ]
}
